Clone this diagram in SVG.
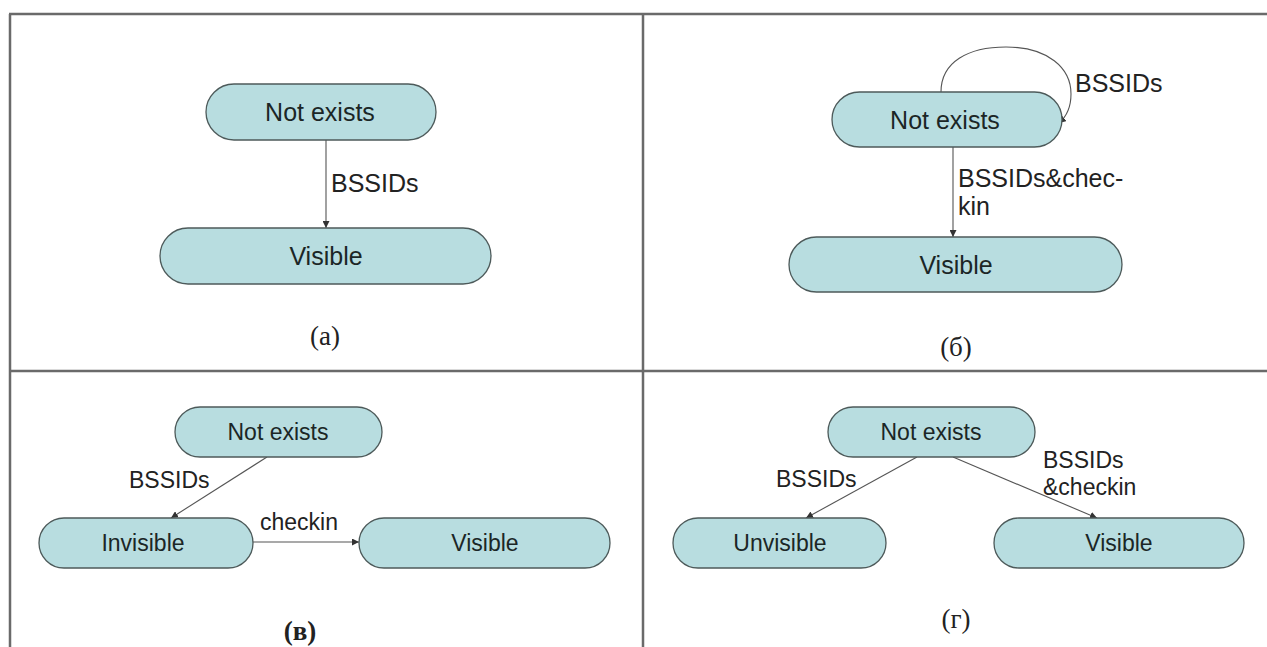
<svg xmlns="http://www.w3.org/2000/svg" width="1267" height="647" viewBox="0 0 1267 647">
<style>
.frame{stroke:#6a6a6a;stroke-width:2.5;fill:none}
.node rect{fill:#b8dde0;stroke:#4d5a5a;stroke-width:1.3}
.node text{font-family:"Liberation Sans",Arial,sans-serif;font-size:23px;fill:#1b2626;text-anchor:middle;dominant-baseline:central}
.big text{font-size:25px}
.edge{stroke:#555;stroke-width:1.1;fill:none;marker-end:url(#arr)}
.lbl{font-family:"Liberation Sans",Arial,sans-serif;font-size:23px;fill:#222}
.lbl.big{font-size:25px}
.cap{font-family:"Liberation Serif","Times New Roman",serif;font-size:27px;fill:#222;text-anchor:middle}
</style>
<defs>
<marker id="arr" viewBox="0 0 10 10" refX="10" refY="5" markerWidth="7" markerHeight="7" orient="auto" markerUnits="userSpaceOnUse">
<path d="M0,0 L10,5 L0,10 z" fill="#333"/>
</marker>
</defs>
<rect width="1267" height="647" fill="#fff"/>
<g id="frame">
<line class="frame" x1="9" y1="14" x2="1267" y2="14"/>
<line class="frame" x1="10" y1="14" x2="10" y2="647"/>
<line class="frame" x1="643" y1="14" x2="643" y2="647"/>
<line class="frame" x1="10" y1="371" x2="1267" y2="371"/>
</g>
<g id="connectors">
<line class="edge" x1="326" y1="140" x2="326" y2="228"/>
<line class="edge" x1="953" y1="147" x2="953" y2="237"/>
<path class="edge" d="M941,92 C941,62 968,47 1006,47 C1048,47 1071,68 1071,94 C1071,108 1066,117 1059,123"/>
<line class="edge" x1="267" y1="457" x2="171" y2="518"/>
<line class="edge" x1="253" y1="542" x2="359" y2="542"/>
<line class="edge" x1="917" y1="457" x2="806" y2="518"/>
<line class="edge" x1="953" y1="457" x2="1097" y2="518"/>
</g>
<g id="labels">
<text class="lbl big" x="331" y="192">BSSIDs</text>
<text class="lbl big" x="958" y="187">BSSIDs&amp;chec-</text>
<text class="lbl big" x="958" y="215">kin</text>
<text class="lbl big" x="1075" y="92">BSSIDs</text>
<text class="lbl" x="129" y="488">BSSIDs</text>
<text class="lbl" x="260" y="530">checkin</text>
<text class="lbl" x="776" y="487">BSSIDs</text>
<text class="lbl" x="1043" y="468">BSSIDs</text>
<text class="lbl" x="1043" y="495">&amp;checkin</text>
</g>
<g id="a-notexists" class="node big"><rect x="206" y="84" width="230" height="56" rx="28"/><text x="320" y="112">Not exists</text></g>
<g id="a-visible" class="node big"><rect x="160" y="228" width="331" height="56" rx="28"/><text x="326" y="256">Visible</text></g>
<g id="b-notexists" class="node big"><rect x="832" y="92" width="230" height="55" rx="27.5"/><text x="945" y="120">Not exists</text></g>
<g id="b-visible" class="node big"><rect x="789" y="237" width="333" height="55" rx="27.5"/><text x="956" y="265">Visible</text></g>
<g id="c-notexists" class="node"><rect x="175" y="407" width="207" height="50" rx="25"/><text x="278" y="432">Not exists</text></g>
<g id="c-invisible" class="node"><rect x="39" y="518" width="214" height="50" rx="25"/><text x="143" y="543">Invisible</text></g>
<g id="c-visible" class="node"><rect x="359" y="518" width="251" height="50" rx="25"/><text x="485" y="543">Visible</text></g>
<g id="d-notexists" class="node"><rect x="828" y="407" width="207" height="50" rx="25"/><text x="931" y="432">Not exists</text></g>
<g id="d-unvisible" class="node"><rect x="673" y="518" width="213" height="50" rx="25"/><text x="780" y="543">Unvisible</text></g>
<g id="d-visible" class="node"><rect x="994" y="518" width="250" height="50" rx="25"/><text x="1119" y="543">Visible</text></g>
<g id="captions">
<text class="cap" x="325" y="345">(а)</text>
<text class="cap" x="956" y="356" font-size="25">(б)</text>
<text class="cap" x="300" y="640" font-weight="bold">(в)</text>
<text class="cap" x="956" y="628" font-size="25">(г)</text>
</g>
</svg>
